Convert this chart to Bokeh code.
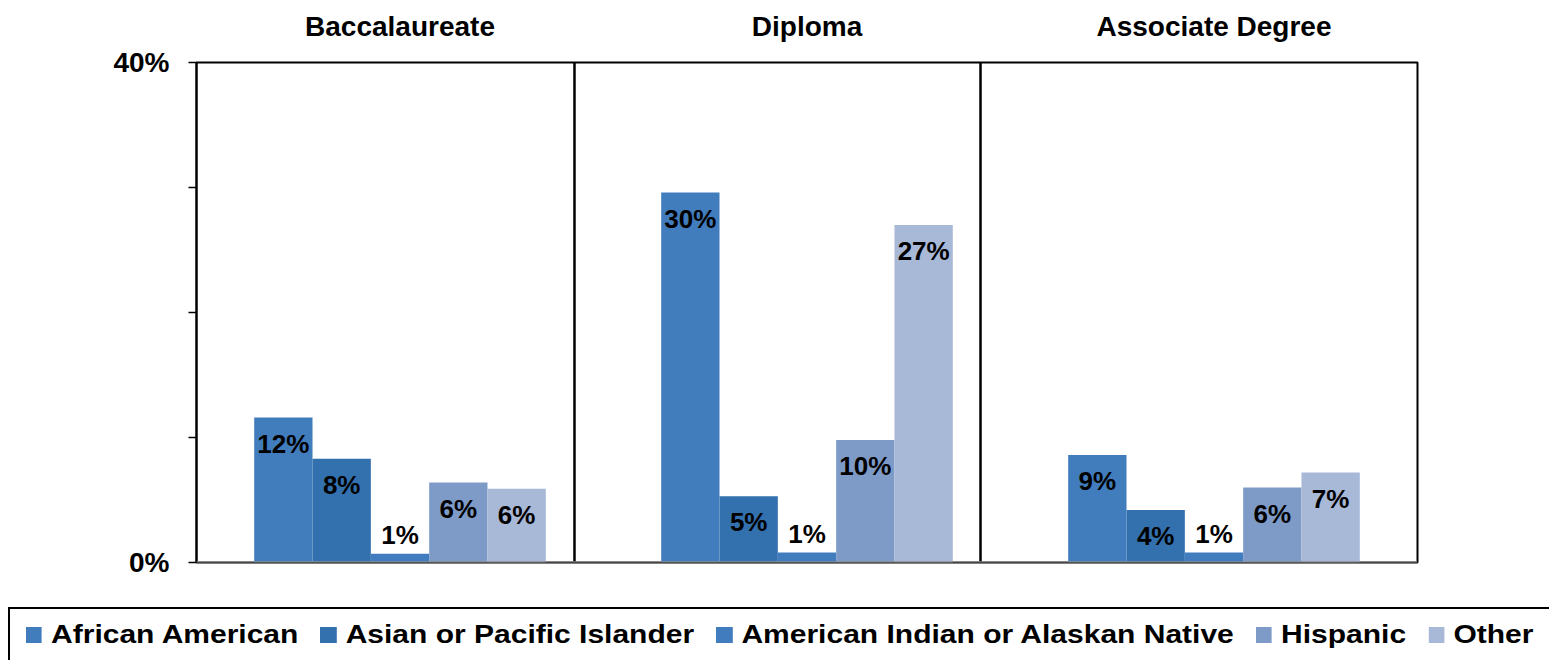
from bokeh.plotting import figure
from bokeh.models import Range1d, FixedTicker, Span, ColumnDataSource, Div
from bokeh.layouts import column
from bokeh.core.properties import value
from bokeh.embed import file_html
from bokeh.resources import INLINE

programs = ["Baccalaureate", "Diploma", "Associate Degree"]
series = ["African American", "Asian or Pacific Islander",
          "American Indian or Alaskan Native", "Hispanic", "Other"]
african_american = [11.6, 29.6, 8.6]
asian_pacific = [8.3, 5.3, 4.2]
american_indian = [0.7, 0.8, 0.8]
hispanic = [6.4, 9.8, 6.0]
other = [5.9, 27.0, 7.2]
y_ticks = [0, 10, 20, 30, 40]
y_tick_labels = {0: "0%", 10: "", 20: "", 30: "", 40: "40%"}

values = [african_american, asian_pacific, american_indian, hispanic, other]
colors = ["#417CBD", "#3370AE", "#417DBE", "#7E9BC8", "#A8B8D7"]

W = 1549
LB, RB = 196, 132
xr = Range1d(0, 3)
centers = [0.5, 1.5, 2.5]
bw = 0.1433

# ---- title row ----
pt = figure(width=W, height=45, output_backend="svg", toolbar_location=None,
            x_range=xr, y_range=Range1d(0, 1), x_axis_type=None, y_axis_type=None,
            min_border_left=LB, min_border_right=RB, min_border_top=0, min_border_bottom=0)
pt.outline_line_color = None
pt.xgrid.visible = False
pt.ygrid.visible = False
tsrc = ColumnDataSource(dict(x=centers, y=[0.5, 0.5, 0.5], t=programs))
pt.text(x="x", y="y", text="t", source=tsrc, y_offset=3,
        text_align="center", text_baseline="middle",
        text_font=value("Liberation Sans"), text_font_style="bold",
        text_font_size="28px", text_color="black")

# ---- main chart ----
p = figure(width=W, height=554, output_backend="svg", toolbar_location=None,
           x_range=xr, y_range=Range1d(0, 40),
           min_border_left=LB, min_border_right=RB,
           min_border_top=17, min_border_bottom=37)
p.xgrid.visible = False
p.ygrid.visible = False
p.xaxis.visible = False
p.outline_line_color = "black"
p.outline_line_width = 2

ax = p.yaxis[0]
ax.ticker = FixedTicker(ticks=y_ticks)
ax.major_label_overrides = y_tick_labels
ax.major_label_text_font = "Liberation Sans"
ax.major_label_text_font_style = "bold"
ax.major_label_text_font_size = "28px"
ax.major_label_text_color = "black"
ax.major_tick_in = 0
ax.major_tick_out = 8
ax.minor_tick_out = 0
ax.minor_tick_in = 0
ax.major_tick_line_color = "black"
ax.major_tick_line_width = 1.5
ax.axis_line_color = "black"
ax.axis_line_width = 2
ax.major_label_standoff = 19

for i, (vals, col) in enumerate(zip(values, colors)):
    xs = [c + (i - 2) * bw for c in centers]
    labels = [f"{round(v):.0f}%" for v in vals]
    offs = [26 if v >= 2 else -19 for v in vals]
    src = ColumnDataSource(dict(x=xs, top=vals, label=labels, off=offs))
    p.vbar(x="x", top="top", width=bw, source=src, fill_color=col, line_color=None)
    p.text(x="x", y="top", text="label", y_offset="off", source=src,
           text_align="center", text_baseline="middle",
           text_font=value("Liberation Sans"), text_font_style="bold",
           text_font_size="26px", text_color="black")

for loc in [0.9287, 1.9263]:
    p.add_layout(Span(location=loc, dimension="height", line_color="black", line_width=2.5))
p.add_layout(Span(location=0, dimension="width", line_color="#8C8C8C", line_width=2.5))

# ---- legend row (HTML) ----
item_html = "".join(
    f'<span style="display:inline-flex;align-items:center;margin-right:18.5px;">'
    f'<span style="display:inline-block;width:13.4px;height:16px;background:{c};margin-right:7.5px;"></span>'
    f'{name}</span>'
    for name, c in zip(series, colors)
)
legend_html = (
    '<div style="position:relative;width:1549px;height:61px;overflow:hidden;background:#fff;">'
    '<div style="position:absolute;left:8px;top:8px;width:1600px;height:56px;'
    'border:2px solid #000;box-sizing:border-box;background:#fff;">'
    '<div style="position:absolute;left:16px;top:0;height:52px;display:flex;align-items:center;'
    'white-space:nowrap;transform:scaleX(1.2);transform-origin:0 50%;'
    "font-family:'Liberation Sans',Arial,sans-serif;font-weight:bold;font-size:25px;color:#000;\">"
    + item_html +
    '</div></div></div>'
)
legend_div = Div(text=legend_html, width=W, height=61, margin=(0, 0, 0, 0))

layout = column(pt, p, legend_div, spacing=0)
open("out.html", "w").write(file_html(layout, INLINE))
